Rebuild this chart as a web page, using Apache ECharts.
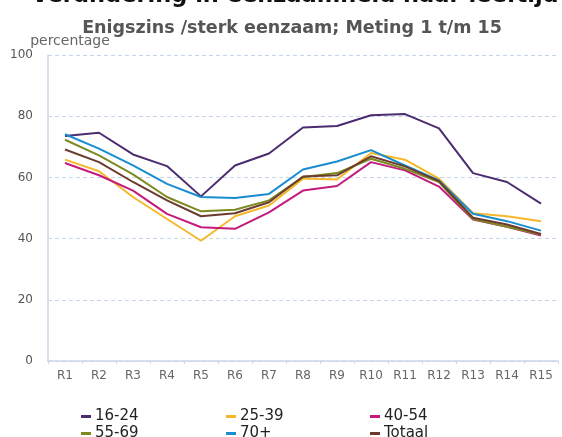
<!DOCTYPE html>
<html>
<head>
<meta charset="utf-8">
<script src="https://cdn.jsdelivr.net/npm/echarts@6/dist/echarts.min.js"></script>
<style>
  html, body { margin: 0; padding: 0; background: #fff; }
  #chart { width: 562px; height: 437px; }
</style>
</head>
<body>
<div id="chart"></div>
<script>
var rondes = ['R1', 'R2', 'R3', 'R4', 'R5', 'R6', 'R7', 'R8', 'R9', 'R10', 'R11', 'R12', 'R13', 'R14', 'R15']
var yTicks = [0, 20, 40, 60, 80, 100]

var groepen = ['16-24', '25-39', '40-54', '55-69', '70+', 'Totaal']
var kleuren = ['#4b2c6f', '#f5b82a', '#c41a7d', '#7d8a20', '#1a8cd0', '#6b3b2e']

var r16_24 = [73.5, 74.6, 67.5, 63.7, 53.8, 63.9, 67.8, 76.3, 76.8, 80.3, 80.7, 76.0, 61.4, 58.5, 51.4]
var r25_39 = [65.8, 62.0, 53.6, 46.4, 39.3, 47.3, 50.8, 59.6, 59.3, 68.0, 65.8, 59.6, 48.3, 47.3, 45.7]
var r40_54 = [64.7, 60.7, 55.7, 48.1, 43.7, 43.2, 48.6, 55.7, 57.2, 65.0, 62.3, 57.0, 46.2, 43.9, 41.0]
var r55_69 = [72.3, 67.2, 61.0, 53.6, 48.9, 49.4, 52.5, 60.1, 61.4, 66.1, 62.8, 58.5, 46.4, 43.9, 41.3]
var r70plus = [74.1, 69.4, 63.9, 57.9, 53.6, 53.3, 54.6, 62.6, 65.2, 68.9, 63.9, 59.0, 48.1, 45.7, 42.6]
var totaal = [69.1, 65.0, 58.5, 52.5, 47.3, 48.3, 51.9, 60.3, 60.7, 66.9, 63.6, 58.8, 46.8, 44.6, 41.5]

var waarden = [r16_24, r25_39, r40_54, r55_69, r70plus, totaal]

var chart = echarts.init(document.getElementById('chart'))

// legenda in 3 kolommen van 2
function legendKolom(namen, left) {
  return {
    data: namen,
    orient: 'vertical',
    left: left,
    top: 408,
    height: 60,
    icon: 'rect',
    itemWidth: 10,
    itemHeight: 3,
    itemGap: 0,
    padding: 0,
    textStyle: { fontFamily: 'DejaVu Sans', fontSize: 15, color: '#222', lineHeight: 17, padding: [0, 0, 0, -1] }
  }
}

var option = {
  backgroundColor: '#fff',
  animation: false,
  title: [
    {
      text: 'Verandering in eenzaamheid naar leeftijd',
      left: 290,
      textAlign: 'center',
      top: -20,
      textStyle: { fontFamily: 'DejaVu Sans', fontWeight: 'bold', fontSize: 22.5, color: '#111' }
    },
    {
      text: 'Enigszins /sterk eenzaam; Meting 1 t/m 15',
      left: 287,
      textAlign: 'center',
      top: 14,
      textStyle: { fontFamily: 'DejaVu Sans', fontWeight: 'bold', fontSize: 17.5, color: '#555' }
    }
  ],
  legend: [
    legendKolom([groepen[0], groepen[3]], 81),
    legendKolom([groepen[1], groepen[4]], 226),
    legendKolom([groepen[2], groepen[5]], 370)
  ],
  grid: { left: 48, right: 4, top: 55, bottom: 76 },
  xAxis: {
    type: 'category',
    data: rondes,
    boundaryGap: true,
    axisLine: { lineStyle: { color: '#c9d6e8', width: 1.5 } },
    axisTick: { show: true, length: 3, lineStyle: { color: '#c9d6e8' } },
    axisLabel: { fontFamily: 'DejaVu Sans', fontSize: 12, color: '#666', margin: 9 }
  },
  yAxis: {
    type: 'value',
    min: yTicks[0],
    max: yTicks[yTicks.length - 1],
    interval: 20,
    name: 'percentage',
    nameLocation: 'end',
    nameGap: 7,
    nameTextStyle: { fontFamily: 'DejaVu Sans', fontSize: 14, color: '#666', align: 'center', padding: [0, 0, 0, 44] },
    axisLine: { show: true, lineStyle: { color: '#c9d6e8', width: 1.5 } },
    axisTick: { show: false },
    axisLabel: { fontFamily: 'DejaVu Sans', fontSize: 12, color: '#555', margin: 15 },
    splitLine: { lineStyle: { color: '#c6d5e8', type: [4, 3] } }
  },
  series: groepen.map(function (naam, i) {
    return {
      name: naam,
      type: 'line',
      data: waarden[i],
      symbol: 'none',
      color: kleuren[i],
      lineStyle: { width: 2, color: kleuren[i] }
    }
  })
}

chart.setOption(option)
</script>
</body>
</html>
